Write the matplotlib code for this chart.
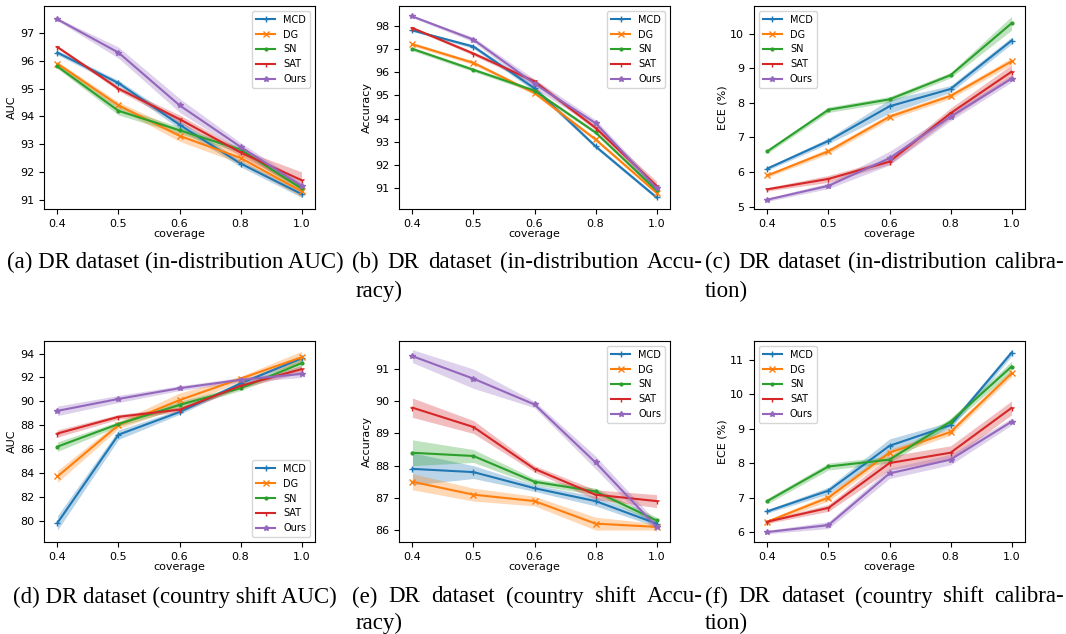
import numpy as np
import matplotlib
matplotlib.use("Agg")
import matplotlib.pyplot as plt

coverage = ["0.4", "0.5", "0.6", "0.8", "1.0"]
methods = ["MCD", "DG", "SN", "SAT", "Ours"]
colors = ["#1f77b4", "#ff7f0e", "#2ca02c", "#d62728", "#9467bd"]
markers = ["+", "x", ".", "1", "*"]

# (a) in-distribution AUC, rows follow methods
auc_id = [[96.3, 95.2, 93.7, 92.3, 91.2],
          [95.9, 94.4, 93.3, 92.5, 91.3],
          [95.8, 94.2, 93.5, 92.8, 91.4],
          [96.5, 95.0, 93.9, 92.7, 91.7],
          [97.5, 96.3, 94.4, 92.9, 91.5]]
auc_id_sd = [[0.08, 0.10, 0.15, 0.12, 0.12],
             [0.08, 0.12, 0.20, 0.20, 0.20],
             [0.08, 0.15, 0.12, 0.10, 0.12],
             [0.05, 0.08, 0.15, 0.12, 0.30],
             [0.05, 0.20, 0.25, 0.15, 0.12]]

# (b) in-distribution accuracy
acc_id = [[97.8, 97.1, 95.3, 92.8, 90.6],
          [97.2, 96.4, 95.1, 93.1, 90.8],
          [97.0, 96.1, 95.2, 93.4, 90.9],
          [97.9, 96.8, 95.6, 93.6, 91.1],
          [98.4, 97.4, 95.5, 93.8, 91.0]]
acc_id_sd = [[0.05, 0.08, 0.12, 0.08, 0.08],
             [0.08, 0.08, 0.08, 0.08, 0.08],
             [0.08, 0.08, 0.08, 0.08, 0.08],
             [0.05, 0.08, 0.10, 0.10, 0.20],
             [0.05, 0.10, 0.20, 0.15, 0.15]]

# (c) in-distribution ECE
ece_id = [[6.1, 6.9, 7.9, 8.4, 9.8],
          [5.9, 6.6, 7.6, 8.2, 9.2],
          [6.6, 7.8, 8.1, 8.8, 10.3],
          [5.5, 5.8, 6.3, 7.7, 8.9],
          [5.2, 5.6, 6.4, 7.6, 8.7]]
ece_id_sd = [[0.05, 0.08, 0.20, 0.10, 0.10],
             [0.05, 0.08, 0.08, 0.08, 0.10],
             [0.06, 0.08, 0.08, 0.08, 0.20],
             [0.05, 0.10, 0.08, 0.15, 0.20],
             [0.05, 0.08, 0.20, 0.12, 0.10]]

# (d) country shift AUC
auc_cs = [[79.8, 87.2, 89.1, 91.5, 93.6],
          [83.7, 88.0, 90.1, 91.9, 93.7],
          [86.2, 88.1, 89.7, 91.1, 93.2],
          [87.3, 88.7, 89.3, 91.3, 92.7],
          [89.2, 90.2, 91.1, 91.8, 92.3]]
auc_cs_sd = [[0.6, 0.4, 0.2, 0.2, 0.2],
             [0.5, 0.3, 0.6, 0.2, 0.5],
             [0.4, 0.2, 0.3, 0.2, 0.3],
             [0.3, 0.2, 0.2, 0.2, 0.3],
             [0.4, 0.3, 0.2, 0.2, 0.3]]

# (e) country shift accuracy
acc_cs = [[87.9, 87.8, 87.3, 86.9, 86.2],
          [87.5, 87.1, 86.9, 86.2, 86.1],
          [88.4, 88.3, 87.5, 87.2, 86.3],
          [89.8, 89.2, 87.9, 87.1, 86.9],
          [91.4, 90.7, 89.9, 88.1, 86.1]]
acc_cs_sd = [[0.5, 0.2, 0.1, 0.15, 0.1],
             [0.25, 0.2, 0.15, 0.2, 0.1],
             [0.4, 0.2, 0.1, 0.1, 0.1],
             [0.3, 0.2, 0.1, 0.15, 0.2],
             [0.2, 0.3, 0.1, 0.2, 0.15]]

# (f) country shift ECE
ece_cs = [[6.6, 7.2, 8.5, 9.1, 11.2],
          [6.3, 7.0, 8.3, 8.9, 10.6],
          [6.9, 7.9, 8.1, 9.2, 10.8],
          [6.3, 6.7, 8.0, 8.3, 9.6],
          [6.0, 6.2, 7.7, 8.1, 9.2]]
ece_cs_sd = [[0.05, 0.1, 0.2, 0.1, 0.1],
             [0.05, 0.1, 0.1, 0.1, 0.1],
             [0.08, 0.1, 0.1, 0.1, 0.15],
             [0.05, 0.1, 0.2, 0.2, 0.2],
             [0.05, 0.1, 0.15, 0.15, 0.1]]

panels = [
    (auc_id, auc_id_sd, "AUC", (90.66, 97.98), "upper right"),
    (acc_id, acc_id_sd, "Accuracy", (90.1, 98.85), "upper right"),
    (ece_id, ece_id_sd, "ECE (%)", (4.93, 10.8), "upper left"),
    (auc_cs, auc_cs_sd, "AUC", (78.2, 95.06), "lower right"),
    (acc_cs, acc_cs_sd, "Accuracy", (85.63, 91.87), "upper right"),
    (ece_cs, ece_cs_sd, "ECE (%)", (5.71, 11.54), "upper left"),
]

W, H = 1066, 634
fig = plt.figure(figsize=(W / 100, H / 100), dpi=100)

cols = [(44, 315), (399, 670), (754, 1025)]
rows = [(6, 209), (341, 542)]

x = np.arange(len(coverage))
for i, (mean, sd, ylab, ylim, loc) in enumerate(panels):
    (l, r), (t, b) = cols[i % 3], rows[i // 3]
    ax = fig.add_axes([l / W, 1 - b / H, (r - l) / W, (b - t) / H])
    for m in range(len(methods)):
        mu = np.array(mean[m])
        s = np.array(sd[m])
        ax.fill_between(x, mu - s, mu + s, color=colors[m], alpha=0.3, lw=0)
        ax.plot(x, mu, color=colors[m], marker=markers[m], ms=4, lw=1.5,
                label=methods[m])
    ax.set_xticks(x)
    ax.set_xticklabels(coverage)
    ax.set_xlim(-0.22, 4.22)
    ax.set_ylim(*ylim)
    ax.tick_params(labelsize=8)
    ax.set_xlabel("coverage", fontsize=8, labelpad=0)
    ax.set_ylabel(ylab, fontsize=8, labelpad=2)
    ax.legend(loc=loc, fontsize=7)

# captions
cap_font = dict(family="Liberation Serif", fontsize=16.5, va="center")
renderer = fig.canvas.get_renderer()


def justify(text, x0, x1, y):
    words = text.split(" ")
    objs = [fig.text(0, 1 - y / H, w, **cap_font) for w in words]
    widths = [o.get_window_extent(renderer).width for o in objs]
    gap = (x1 - x0 - sum(widths)) / (len(words) - 1)
    pos = x0
    for o, w in zip(objs, widths):
        o.set_x(pos / W)
        pos += w + gap


def plain(text, x0, y, ha="left"):
    fig.text(x0 / W, 1 - y / H, text, ha=ha, **cap_font)


plain("(a) DR dataset (in-distribution AUC)", 175, 262, ha="center")
justify("(b) DR dataset (in-distribution Accu-", 352, 703, 262)
justify("(c) DR dataset (in-distribution calibra-", 705, 1064, 262)
plain("racy)", 356, 291)
plain("tion)", 705, 291)

plain("(d) DR dataset (country shift AUC)", 175, 597, ha="center")
justify("(e) DR dataset (country shift Accu-", 352, 703, 597)
justify("(f) DR dataset (country shift calibra-", 705, 1064, 597)
plain("racy)", 356, 623)
plain("tion)", 705, 623)

fig.savefig("out.png", dpi=100)
